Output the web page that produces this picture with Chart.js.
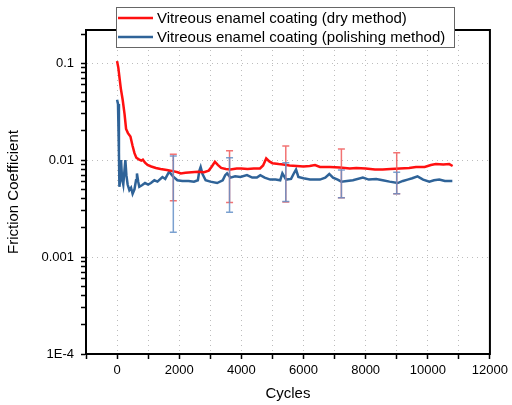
<!DOCTYPE html>
<html>
<head>
<meta charset="utf-8">
<title>Friction coefficient vs cycles</title>
<script src="https://cdn.jsdelivr.net/npm/chart.js@4/dist/chart.umd.min.js"></script>
<style>
  html, body { margin: 0; padding: 0; background: #fff; }
  #wrap { width: 512px; height: 405px; }
</style>
</head>
<body>
<div id="wrap"><canvas id="myChart" width="512" height="405"></canvas></div>
<script>
// series (cycles, friction coefficient)
var dryCycles = [0, 40, 80, 120, 180, 240, 290, 350, 430, 500, 560, 620, 700, 780, 830, 900, 980,
  1100, 1250, 1400, 1600, 1800, 1950, 2050, 2200, 2400, 2600, 2800, 2950, 3050, 3150, 3250, 3350,
  3500, 3650, 3850, 4000, 4200, 4400, 4600, 4700, 4800, 4900, 5000, 5200, 5350, 5550, 5780, 6000,
  6200, 6370, 6530, 6850, 7170, 7490, 7700, 8000, 8300, 8550, 8800, 9100, 9400, 9620, 9900, 10100,
  10260, 10500, 10690, 10800];
var dryValues = [0.105, 0.09, 0.07, 0.055, 0.042, 0.03, 0.021, 0.019, 0.0175, 0.014, 0.0118, 0.0106,
  0.0102, 0.0099, 0.0101, 0.0094, 0.0089, 0.0086, 0.0083, 0.0081, 0.0079, 0.0077, 0.0075, 0.0073,
  0.0074, 0.0075, 0.0076, 0.0075, 0.0078, 0.0086, 0.0096, 0.0089, 0.0083, 0.0081, 0.0080, 0.0082,
  0.0082, 0.0081, 0.0082, 0.0082, 0.0088, 0.0104, 0.0097, 0.0093, 0.0091, 0.0090, 0.0088, 0.0087,
  0.0086, 0.0087, 0.0089, 0.0085, 0.0085, 0.0084, 0.0082, 0.0083, 0.0082, 0.0080, 0.0080, 0.0081,
  0.0082, 0.0083, 0.0085, 0.0085, 0.0089, 0.0091, 0.0090, 0.0091, 0.0087];

var polCycles = [0, 30, 60, 75, 100, 128, 160, 200, 240, 267, 300, 340, 395, 450, 500, 560, 610, 640,
  680, 715, 800, 900, 1000, 1090, 1200, 1300, 1460, 1550, 1675, 1800, 1940, 2100, 2300, 2475, 2600,
  2650, 2690, 2750, 2850, 3000, 3220, 3400, 3480, 3540, 3650, 3800, 3970, 4180, 4350, 4500, 4610,
  4750, 4930, 5100, 5250, 5320, 5440, 5600, 5700, 5760, 5835, 6000, 6210, 6530, 6700, 6830, 6950,
  7100, 7220, 7400, 7590, 7910, 8100, 8340, 8550, 8770, 9030, 9200, 9350, 9500, 9670, 9850, 10050,
  10200, 10370, 10550, 10790];
var polValues = [0.042, 0.038, 0.012, 0.0053, 0.0062, 0.0100, 0.0065, 0.0056, 0.0080, 0.0100, 0.0070,
  0.0056, 0.0049, 0.0052, 0.0045, 0.0050, 0.0062, 0.0073, 0.0060, 0.0053, 0.0055, 0.0058, 0.0056,
  0.0058, 0.0062, 0.0060, 0.0067, 0.0064, 0.0076, 0.0068, 0.0062, 0.0061, 0.0061, 0.0060, 0.0062,
  0.0078, 0.0085, 0.0072, 0.0062, 0.0060, 0.0058, 0.0062, 0.0070, 0.0073, 0.0066, 0.0068, 0.0067,
  0.0070, 0.0066, 0.0066, 0.0070, 0.0066, 0.0063, 0.0063, 0.0062, 0.0073, 0.0063, 0.0064, 0.0074,
  0.0080, 0.0067, 0.0065, 0.0063, 0.0063, 0.0066, 0.0072, 0.0066, 0.0063, 0.0060, 0.0061, 0.0062,
  0.0066, 0.0063, 0.0064, 0.0062, 0.0060, 0.0058, 0.0061, 0.0063, 0.0065, 0.0068, 0.0063, 0.0060,
  0.0062, 0.0063, 0.0061, 0.0061];

// error bars
var errCycles = [1810, 3620, 5430, 7220, 9000];
var dryLow = [0.0038, 0.00365, 0.0037, 0.0041, 0.0045];
var dryHigh = [0.0115, 0.0125, 0.0140, 0.0130, 0.0119];
var polLow = [0.0018, 0.0029, 0.00375, 0.0041, 0.0045];
var polHigh = [0.0110, 0.0106, 0.0094, 0.0079, 0.0075];

// axis ticks
var xTickValues = [0, 2000, 4000, 6000, 8000, 10000, 12000];
var yTickValues = [0.0001, 0.001, 0.01, 0.1];
var yTickLabels = ["1E-4", "0.001", "0.01", "0.1"];

var FONT = "'Liberation Sans', Arial, sans-serif";

function pairs(xs, ys) {
  return xs.map(function (x, i) { return { x: x, y: ys[i] }; });
}

function isDecade(v) {
  var l = Math.log10(v);
  return Math.abs(l - Math.round(l)) < 1e-6;
}

var extras = {
  id: "extras",
  afterDatasetsDraw: function (chart) {
    var ctx = chart.ctx, xs = chart.scales.x, ys = chart.scales.y;
    var sets = [
      { lo: dryLow, hi: dryHigh, color: "rgba(240,90,90,0.85)" },
      { lo: polLow, hi: polHigh, color: "rgba(100,145,200,0.85)" }
    ];
    ctx.save();
    ctx.lineWidth = 1.5;
    sets.forEach(function (s) {
      ctx.strokeStyle = s.color;
      errCycles.forEach(function (c, i) {
        var px = xs.getPixelForValue(c);
        var y1 = ys.getPixelForValue(s.hi[i]);
        var y2 = ys.getPixelForValue(s.lo[i]);
        ctx.beginPath();
        ctx.moveTo(px, y1); ctx.lineTo(px, y2);
        ctx.moveTo(px - 3.5, y1); ctx.lineTo(px + 3.5, y1);
        ctx.moveTo(px - 3.5, y2); ctx.lineTo(px + 3.5, y2);
        ctx.stroke();
      });
    });
    ctx.restore();
  },
  afterDraw: function (chart) {
    var ctx = chart.ctx, a = chart.chartArea;
    ctx.save();
    // top and right frame
    ctx.strokeStyle = "#000";
    ctx.lineWidth = 2;
    ctx.beginPath();
    ctx.moveTo(a.left - 1, a.top);
    ctx.lineTo(a.right, a.top);
    ctx.lineTo(a.right, a.bottom + 1);
    ctx.stroke();

    // legend box
    ctx.fillStyle = "#fff";
    ctx.fillRect(116, 7, 338, 40);
    ctx.strokeStyle = "#666";
    ctx.lineWidth = 1;
    ctx.strokeRect(116.5, 7.5, 338, 40);
    ctx.font = "15px " + FONT;
    ctx.textBaseline = "middle";
    chart.data.datasets.forEach(function (ds, i) {
      var y = 18 + i * 19;
      ctx.strokeStyle = ds.borderColor;
      ctx.lineWidth = 2.5;
      ctx.beginPath();
      ctx.moveTo(118, y); ctx.lineTo(153, y);
      ctx.stroke();
      ctx.fillStyle = "#000";
      ctx.fillText(ds.label, 157, y + 1);
    });
    ctx.restore();
  }
};

var ctx = document.getElementById("myChart").getContext("2d");
var chart = new Chart(ctx, {
  type: "line",
  data: {
    datasets: [
      {
        label: "Vitreous enamel coating (dry method)",
        data: pairs(dryCycles, dryValues),
        borderColor: "#ff1010",
        borderWidth: 2.5,
        pointRadius: 0,
        tension: 0
      },
      {
        label: "Vitreous enamel coating (polishing method)",
        data: pairs(polCycles, polValues),
        borderColor: "#2f6398",
        borderWidth: 2.5,
        pointRadius: 0,
        tension: 0
      }
    ]
  },
  options: {
    responsive: false,
    animation: false,
    devicePixelRatio: 1,
    layout: { padding: { top: 30, right: 21, left: 0, bottom: 0 } },
    plugins: { legend: { display: false }, tooltip: { enabled: false } },
    scales: {
      x: {
        type: "linear",
        min: -1000,
        max: 12000,
        afterFit: function (s) { s.height = 51; },
        ticks: {
          stepSize: 1000,
          autoSkip: false,
          maxRotation: 0,
          padding: 4,
          color: "#000",
          font: { family: FONT, size: 13 },
          callback: function (v) { return xTickValues.indexOf(v) >= 0 ? String(v) : ""; }
        },
        grid: {
          color: function (c) {
            var v = c.tick ? c.tick.value : 0;
            return (v <= -1000 || v >= 12000) ? "rgba(0,0,0,0)" : "#bdbdbd";
          },
          tickColor: "#000",
          tickLength: 5,
          tickWidth: 1.5
        },
        border: { display: true, color: "#000", width: 2, dash: [1, 4] },
        title: {
          display: true,
          text: "Cycles",
          color: "#000",
          font: { family: FONT, size: 15 },
          padding: { top: 0, bottom: 2 }
        }
      },
      y: {
        type: "logarithmic",
        min: 0.0001,
        max: 0.22,
        afterFit: function (s) { s.width = 86; },
        afterBuildTicks: function (s) {
          var t = [];
          yTickValues.forEach(function (d) {
            for (var k = 1; k <= 9; k++) {
              var v = parseFloat((d * k).toPrecision(6));
              if (v <= 0.22) t.push({ value: v });
            }
          });
          s.ticks = t;
        },
        ticks: {
          autoSkip: false,
          padding: 7,
          color: "#000",
          font: { family: FONT, size: 13 },
          callback: function (v) {
            for (var i = 0; i < yTickValues.length; i++) {
              if (Math.abs(v / yTickValues[i] - 1) < 1e-6) return yTickLabels[i];
            }
            return "";
          }
        },
        grid: {
          color: function (c) {
            var v = c.tick ? c.tick.value : 1;
            return (isDecade(v) && v > 0.0002) ? "#bdbdbd" : "rgba(0,0,0,0)";
          },
          tickColor: "#000",
          tickLength: 5,
          tickWidth: 1.5
        },
        border: { display: true, color: "#000", width: 2, dash: [1, 4] },
        title: {
          display: true,
          text: "Friction Coefficient",
          color: "#000",
          font: { family: FONT, size: 15 },
          padding: { top: 5, bottom: 0 }
        }
      }
    }
  },
  plugins: [extras]
});
</script>
</body>
</html>
